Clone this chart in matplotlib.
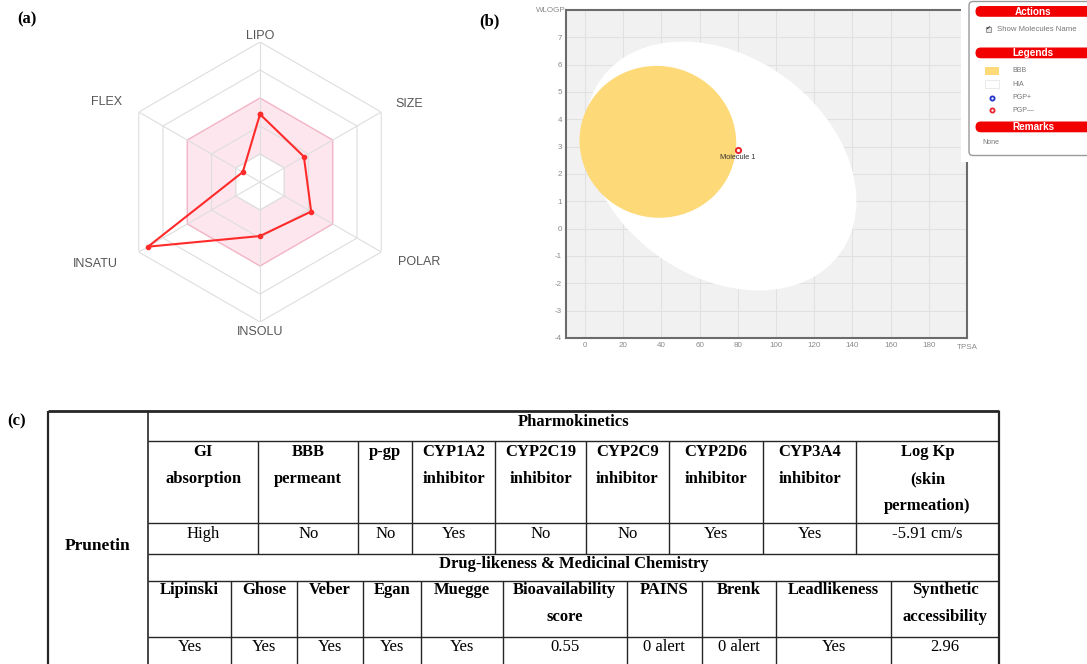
import matplotlib
matplotlib.use("Agg")
import matplotlib.pyplot as plt
import numpy as np
from matplotlib.patches import Ellipse, FancyBboxPatch, Rectangle

plt.rcParams["axes.unicode_minus"] = False

W, H = 1087, 664

# (a) bioavailability radar, values in grid levels (0-5)
radar_labels = ["LIPO", "SIZE", "POLAR", "INSOLU", "INSATU", "FLEX"]
radar_values = [2.42, 1.81, 2.11, 1.93, 4.62, 0.71]
optimal_band = (1, 3)

# (b) boiled-egg: ellipses (center, width, height, angle) and the molecule
hia_center, hia_width, hia_height, hia_angle = (71.051, 2.292), 142.081, 8.740, -1.031325
bbb_center, bbb_width, bbb_height, bbb_angle = (38.117, 3.177), 82.061, 5.557, -0.066
mol_tpsa = [79.90]
mol_wlogp = [2.86]
mol_names = ["Molecule 1"]
x_ticks = list(range(0, 181, 20))
y_ticks = list(range(-4, 8))

# (c) table
compound = "Prunetin"
pk_title = "Pharmokinetics"
pk_headers = ["GI\nabsorption", "BBB\npermeant", "p-gp", "CYP1A2\ninhibitor",
              "CYP2C19\ninhibitor", "CYP2C9\ninhibitor", "CYP2D6\ninhibitor",
              "CYP3A4\ninhibitor", "Log Kp\n(skin\npermeation)"]
pk_values = ["High", "No", "No", "Yes", "No", "No", "Yes", "Yes", "-5.91 cm/s"]
dl_title = "Drug-likeness & Medicinal Chemistry"
dl_headers = ["Lipinski", "Ghose", "Veber", "Egan", "Muegge", "Bioavailability\nscore",
              "PAINS", "Brenk", "Leadlikeness", "Synthetic\naccessibility"]
dl_values = ["Yes", "Yes", "Yes", "Yes", "Yes", "0.55", "0 alert", "0 alert", "Yes", "2.96"]

SERIF = "Liberation Serif"
SANS = "Liberation Sans"


def px_rect(x0, y0, x1, y1):
    return [x0 / W, 1 - y1 / H, (x1 - x0) / W, (y1 - y0) / H]


fig = plt.figure(figsize=(W / 100, H / 100), dpi=100)

# ---- radar ----
cx, cy, R = 260, 182, 140
rax = fig.add_axes(px_rect(cx - R, cy - R, cx + R, cy + R), projection="polar")
rax.set_ylim(0, 5)
rax.axis("off")
theta = np.deg2rad([90, 30, -30, -90, -150, 150])
th = np.append(theta, theta[0])
lo, hi = optimal_band
rax.fill(th, [hi] * 7, color="#fde6ee", ec="#f2b4c4", lw=1, zorder=1)
rax.fill(th, [lo] * 7, color="white", ec="#e3e3e3", lw=0.8, zorder=1.5)
for lvl in range(1, 6):
    if lvl != hi:
        rax.plot(th, [lvl] * 7, color="#dedede", lw=0.8, zorder=2)
for t in theta:
    rax.plot([t, t], [0, 5], color="#dedede", lw=0.8, zorder=2)
vals = radar_values + radar_values[:1]
rax.plot(th, vals, color="#ff2b2b", lw=1.5, marker="o", ms=3, zorder=3)
label_pos = {"LIPO": (5.2, "center"), "SIZE": (5.6, "left"), "POLAR": (5.7, "left"),
             "INSOLU": (5.35, "center"), "INSATU": (5.85, "right"), "FLEX": (5.7, "right")}
for lab, t in zip(radar_labels, theta):
    r, ha = label_pos[lab]
    rax.text(t, r, lab, ha=ha, va="center", fontsize=9, color="#555555",
             family=SANS, clip_on=False)

# ---- boiled-egg ----
sax = fig.add_axes(px_rect(566, 10, 967, 338))
sax.set_xlim(-10, 200)
sax.set_ylim(-4, 8)
sax.set_facecolor("#f1f1f1")
sax.set_axisbelow(True)
sax.set_xticks(x_ticks)
sax.set_yticks(y_ticks)
sax.grid(color="#e1e1e1", lw=0.8)
sax.tick_params(length=0, labelsize=5.8, labelcolor="#8a8a8a", pad=3)
for lbl in sax.get_xticklabels() + sax.get_yticklabels():
    lbl.set_family(SANS)
for s in sax.spines.values():
    s.set_color("#6b6b6b")
    s.set_linewidth(1.5)
sax.add_patch(Ellipse(hia_center, hia_width, hia_height, angle=hia_angle,
                      fc="white", ec="none", zorder=2))
sax.add_patch(Ellipse(bbb_center, bbb_width, bbb_height, angle=bbb_angle,
                      fc="#fdd977", ec="none", zorder=3))
sax.scatter(mol_tpsa, mol_wlogp, s=14, facecolor="white", edgecolor="#e8242b",
            lw=1.4, zorder=4)
for x, y, n in zip(mol_tpsa, mol_wlogp, mol_names):
    sax.annotate(n, (x, y), xytext=(0, -5), textcoords="offset points",
                 ha="center", va="center", fontsize=5.3, color="#333333",
                 family=SANS, zorder=5)
sax.text(-10, 8, "WLOGP", ha="right", va="center", fontsize=5.8,
         color="#8a8a8a", family=SANS, transform=sax.transData, clip_on=False)
sax.annotate("TPSA", (200, -4), xytext=(0, -7), textcoords="offset points",
             ha="center", va="center", fontsize=5.8, color="#8a8a8a",
             family=SANS, annotation_clip=False)

# ---- overlay: panel, labels, table ----
ov = fig.add_axes([0, 0, 1, 1])
ov.set_xlim(0, W)
ov.set_ylim(H, 0)
ov.axis("off")
ov.set_zorder(10)

for txt, x, y in [("(a)", 27, 19), ("(b)", 489, 21), ("(c)", 16.5, 421)]:
    ov.text(x, y, txt, ha="center", va="center", fontsize=12,
            fontweight="bold", family=SERIF)

# side panel
ov.add_patch(Rectangle((961, 0), 130, 162, fc="white", ec="none"))
ov.add_patch(FancyBboxPatch((969, 1.5), 130, 154, boxstyle="round,pad=0,rounding_size=4",
                            fc="white", ec="#9a9a9a", lw=1, clip_on=False))
for title, y0 in [("Actions", 6), ("Legends", 47.5), ("Remarks", 121.5)]:
    ov.add_patch(FancyBboxPatch((975.5, y0), 125, 10.8,
                                boxstyle="round,pad=0,rounding_size=5.4",
                                fc="#f20000", ec="none", clip_on=False))
    ov.text(1033, y0 + 5.6, title, ha="center", va="center", fontsize=7.2,
            fontweight="bold", color="white", family=SANS)
ov.add_patch(Rectangle((985.5, 26.5), 5, 5, fc="#e8e8e8", ec="#888888", lw=0.6))
ov.text(988, 28.6, "\u2714", ha="center", va="center", fontsize=4.5,
        color="#333333", family="DejaVu Sans")
ov.text(997, 29.5, "Show Molecules Name", ha="left", va="center", fontsize=5.6,
        color="#777777", family=SANS)
ov.add_patch(Rectangle((985, 67), 14, 8, fc="#fdd977", ec="none"))
ov.add_patch(Rectangle((985, 80), 14, 8, fc="white", ec="#e6e6e6", lw=0.6))
ov.scatter([992], [97.5], s=9, facecolor="white", edgecolor="#2233cc", lw=1.3)
ov.scatter([992], [110], s=9, facecolor="white", edgecolor="#e8242b", lw=1.3)
for txt, y in [("BBB", 71), ("HIA", 84.5), ("PGP+", 97.5), ("PGP\u2014", 110)]:
    ov.text(1012, y, txt, ha="left", va="center", fontsize=5, color="#777777", family=SANS)
ov.text(982, 142, "None", ha="left", va="center", fontsize=5, color="#777777", family=SANS)

# table grid
left, split, right = 48, 148, 999
rows = [410.7, 440.7, 523.3, 554.3, 580.7, 636.7, 672]
pk_cols = [split, 258.3, 358.3, 412.3, 495.3, 585.7, 669, 763.3, 855.7, right]
dl_cols = [split, 231, 296.7, 363.3, 420.7, 502.7, 626.7, 701.5, 776.4, 891, right]
line = dict(color="#262626", solid_capstyle="butt")
ov.plot([left, right], [rows[0], rows[0]], lw=2.0, **line)
for y in rows[1:-1]:
    ov.plot([split, right], [y, y], lw=1.0, **line)
for x in (left, split, right):
    ov.plot([x, x], [rows[0], rows[-1]], lw=1.6 if x != split else 1.2, **line)
for x in pk_cols[1:-1]:
    ov.plot([x, x], [rows[1], rows[3]], lw=1.0, **line)
for x in dl_cols[1:-1]:
    ov.plot([x, x], [rows[4], rows[-1]], lw=1.0, **line)

mid = (split + right) / 2
ov.text(mid, 426, pk_title, ha="center", va="baseline", fontsize=12,
        fontweight="bold", family=SERIF)
ov.text(mid, 568.3, dl_title, ha="center", va="baseline", fontsize=12,
        fontweight="bold", family=SERIF)
ov.text((left + split) / 2, 550, compound, ha="center", va="baseline",
        fontsize=12.5, fontweight="bold", family=SERIF)


def fill_row(cols, headers, values, head_y, val_y):
    for i, (hd, v) in enumerate(zip(headers, values)):
        xc = (cols[i] + cols[i + 1]) / 2
        for k, part in enumerate(hd.split("\n")):
            ov.text(xc, head_y + 27 * k, part, ha="center", va="baseline",
                    fontsize=12, fontweight="bold", family=SERIF)
        ov.text(xc, val_y, v, ha="center", va="baseline", fontsize=12, family=SERIF)


fill_row(pk_cols, pk_headers, pk_values, 456, 537.5)
fill_row(dl_cols, dl_headers, dl_values, 594.3, 651)

fig.savefig("out.png", dpi=100, facecolor="white")
